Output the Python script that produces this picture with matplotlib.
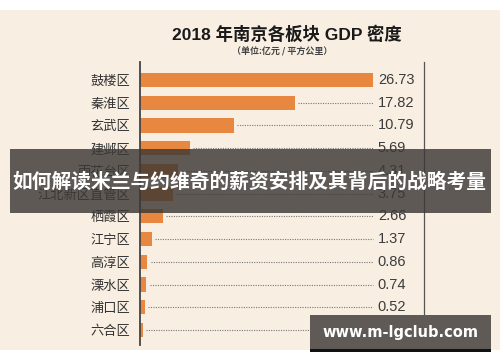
import numpy as np
import matplotlib.pyplot as plt
from matplotlib.patches import Rectangle

plt.rcParams['font.family'] = ['Noto Sans CJK SC', 'DejaVu Sans']

districts = ['鼓楼区', '秦淮区', '玄武区', '建邺区', '雨花台区', '江北新区直管区',
             '栖霞区', '江宁区', '高淳区', '溧水区', '浦口区', '六合区']
density = [26.73, 17.82, 10.79, 5.69, 4.31, 3.75, 2.66, 1.37, 0.86, 0.74, 0.52, 0.36]
labels = ['26.73', '17.82', '10.79', '5.69', '4.31', '3.75',
          '2.66', '1.37', '0.86', '0.74', '0.52', '0.36']

W, H = 500, 362
bg = '#f8efe2'
bar_color = '#e8873f'

fig = plt.figure(figsize=(W / 100, H / 100), dpi=100)
fig.patch.set_facecolor('white')

# beige card
fig.add_artist(Rectangle((0, (H - 350) / H), 1, 340 / H, transform=fig.transFigure,
                         facecolor=bg, edgecolor='none', zorder=0))

# axes: x 140..424 px, y 62..345 px
ax = fig.add_axes([140 / W, (H - 345) / H, 284 / W, 283 / H])
ax.set_facecolor('none')
px_per_unit = 233 / 26.73
ax.set_xlim(0, 284 / px_per_unit)
y = np.arange(len(districts))
ax.set_ylim(11 + 15 / 22.7, -18 / 22.7)

ax.barh(y, density, height=0.62, color=bar_color, zorder=2)
end = 26.73
for yi, v, lab in zip(y, density, labels):
    if v < end - 0.5:
        ax.plot([v + 0.35, end], [yi, yi], linestyle=(0, (1, 1.2)), color='#777777',
                linewidth=0.8, zorder=1)
    ax.text(end + 0.55, yi, lab, ha='left', va='center', fontsize=10.5,
            family=['Liberation Sans', 'DejaVu Sans'], color='#3c3c3c')

ax.set_yticks(y)
ax.set_yticklabels(districts, fontsize=9.5, color='#333333')
ax.tick_params(axis='y', length=0, pad=7)
ax.set_xticks([])
for s in ['top', 'bottom']:
    ax.spines[s].set_visible(False)
ax.spines['left'].set_color('#444444')
ax.spines['right'].set_color('#555555')
ax.spines['left'].set_linewidth(1.3)
ax.spines['right'].set_linewidth(0.9)

fig.text(287 / W, 1 - 34 / H, '2018 年南京各板块 GDP 密度', ha='center', va='center',
         fontsize=12.5, fontweight='heavy', color='#1a1a1a',
         family=['Liberation Sans', 'Noto Sans CJK SC'])
fig.text(282 / W, 1 - 52 / H, '（单位:亿元 / 平方公里）', ha='center', va='center',
         fontsize=6.5, fontweight='bold', color='#444444')

# overlay banner
fig.add_artist(Rectangle((10 / W, (H - 213) / H), 481 / W, 64 / H, transform=fig.transFigure,
                         facecolor='#3c3835', alpha=0.82, edgecolor='none', zorder=5))
fig.text(249 / W, 1 - 182 / H, '如何解读米兰与约维奇的薪资安排及其背后的战略考量',
         ha='center', va='center', fontsize=14.2, fontweight='bold', color='white', zorder=6)

# watermark
fig.add_artist(Rectangle((310 / W, (H - 349) / H), 181 / W, 34 / H, transform=fig.transFigure,
                         facecolor='#5f5a55', edgecolor='none', zorder=5))
fig.add_artist(Rectangle((310 / W, (H - 352) / H), 181 / W, 3 / H, transform=fig.transFigure,
                         facecolor='#111111', edgecolor='none', zorder=5))
fig.text(400 / W, 1 - 332 / H, 'www.m-lgclub.com', ha='center', va='center',
         fontsize=10.5, fontweight='bold', family='DejaVu Sans', color='white', zorder=6)

fig.savefig('out.png', dpi=100, facecolor=fig.get_facecolor())
